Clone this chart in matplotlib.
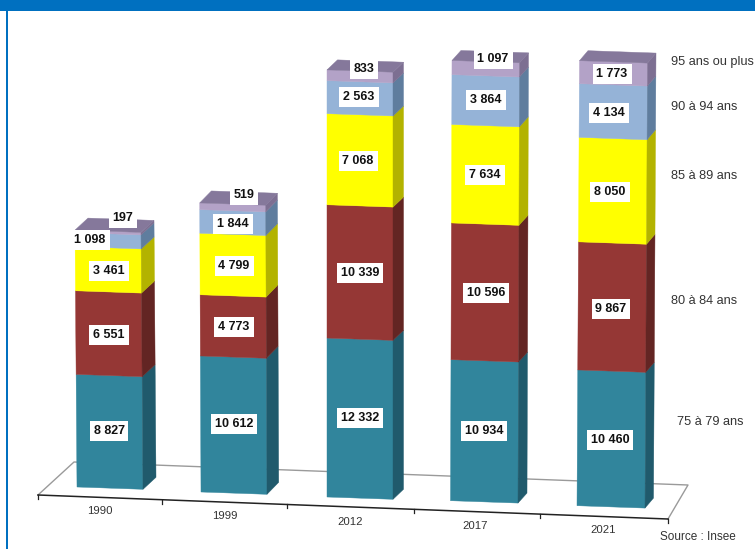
import numpy as np
import matplotlib
matplotlib.use('Agg')
import matplotlib.pyplot as plt
from matplotlib.patches import Polygon, Rectangle

plt.rcParams['font.family'] = ['Liberation Sans', 'DejaVu Sans']
plt.rcParams['text.kerning_factor'] = 6

years = ['1990', '1999', '2012', '2017', '2021']
age_groups = ['75 à 79 ans', '80 à 84 ans', '85 à 89 ans', '90 à 94 ans', '95 ans ou plus']

v_75_79 = [8827, 10612, 12332, 10934, 10460]
v_80_84 = [6551, 4773, 10339, 10596, 9867]
v_85_89 = [3461, 4799, 7068, 7634, 8050]
v_90_94 = [1098, 1844, 2563, 3864, 4134]
v_95_plus = [197, 519, 833, 1097, 1773]
series = [v_75_79, v_80_84, v_85_89, v_90_94, v_95_plus]

front_cols = ['#31859c', '#953735', '#ffff00', '#95b3d7', '#b3a2c7']
side_cols = ['#205a6c', '#632523', '#b3b300', '#5f7d9e', '#7d6f92']
top_col = '#85789b'

# fake 3d geometry, one entry per bar (pixels)
left = [77, 201, 327, 450.5, 577]
base = [487, 492, 497, 500.7, 505.7]
width = [66, 66, 66, 67.5, 68]
scale = [0.01276, 0.01282, 0.01289, 0.0129, 0.01298]
lean = [-2, -1.3, 0, 1.5, 2.5]
depth_x = [13, 11.7, 10.5, 9, 8.5]
depth_y = [12, 12, 10, 10, 10]
slope = 0.035

# label centres, by bar then by age group
label_x = [[109, 109, 109, 90, 123], [234, 234, 234, 233, 244], [360, 360, 358, 359, 364],
           [484, 486, 485, 486, 493], [610, 611, 610, 609, 612]]
label_y = [[431, 335, 271, 240, 218], [424, 327, 266, 224, 195], [418, 273, 161, 97, 69],
           [431, 293, 175, 100, 59], [440, 309, 192, 113, 74]]

year_x = [100, 225, 350, 475, 603]
year_y = [511, 516, 522, 526, 530]
legend_x = [677, 671, 671, 671, 671]
legend_y = [422, 301, 176, 107, 62]
tick_x = [38, 162, 287, 414, 540, 668]

fig = plt.figure(figsize=(7.55, 5.49), dpi=100)
ax = fig.add_axes([0, 0, 1, 1])
ax.set_xlim(0, 755)
ax.set_ylim(549, 0)
ax.axis('off')

# frame
ax.add_patch(Rectangle((0, 0), 755, 11, color='#0070c0', lw=0, zorder=1))
ax.add_patch(Rectangle((6, 0), 2, 549, color='#0070c0', lw=0, zorder=1))

# floor
gray = '#9a9a9a'
ax.plot([38, 74, 688, 668], [495, 462, 485, 519], color=gray, lw=1, zorder=1)
ax.plot([38, 668], [495, 519], color='#222222', lw=1.1, zorder=1)
for tx in tick_x:
    ty = 495 + (tx - 38) * (519 - 495) / (668 - 38)
    ax.plot([tx, tx], [ty, ty + 4], color='#222222', lw=0.9, zorder=1)


def front_corners(i, low, high):
    run = lean[i] / sum(s[i] for s in series)
    xl0 = left[i] + run * low
    xl1 = left[i] + run * high
    y0 = base[i] - scale[i] * low
    y1 = base[i] - scale[i] * high
    w = width[i]
    return [(xl0, y0), (xl0 + w, y0 + w * slope), (xl1 + w, y1 + w * slope), (xl1, y1)]


for i in range(len(years)):
    cum = 0
    for k, s in enumerate(series):
        pts = front_corners(i, cum, cum + s[i])
        ax.add_patch(Polygon(pts, closed=True, fc=front_cols[k], ec=front_cols[k], lw=0.3, zorder=2))
        side = [pts[1], (pts[1][0] + depth_x[i], pts[1][1] - depth_y[i]),
                (pts[2][0] + depth_x[i], pts[2][1] - depth_y[i]), pts[2]]
        ax.add_patch(Polygon(side, closed=True, fc=side_cols[k], ec=side_cols[k], lw=0.3, zorder=2))
        cum += s[i]
    top = [pts[3], pts[2], (pts[2][0] + depth_x[i], pts[2][1] - depth_y[i]),
           (pts[3][0] + depth_x[i], pts[3][1] - depth_y[i])]
    ax.add_patch(Polygon(top, closed=True, fc=top_col, ec=top_col, lw=0.3, zorder=2))

    for k, s in enumerate(series):
        txt = f'{s[i]:,}'.replace(',', ' ')
        ax.text(label_x[i][k], label_y[i][k], txt, ha='center', va='center', fontsize=9,
                fontweight='bold', color='#111111', zorder=4,
                bbox=dict(fc='white', ec='none', pad=2.8))
    ax.text(year_x[i], year_y[i], years[i], ha='center', va='center', fontsize=8.2,
            color='#333333', zorder=3)

for name, lx, ly in zip(age_groups, legend_x, legend_y):
    ax.text(lx, ly, name, ha='left', va='center', fontsize=9.2, color='#333333', zorder=3)
ax.text(660, 537, 'Source : Insee', ha='left', va='center', fontsize=8.5, color='#333333', zorder=3)

fig.savefig('out.png', dpi=100)
